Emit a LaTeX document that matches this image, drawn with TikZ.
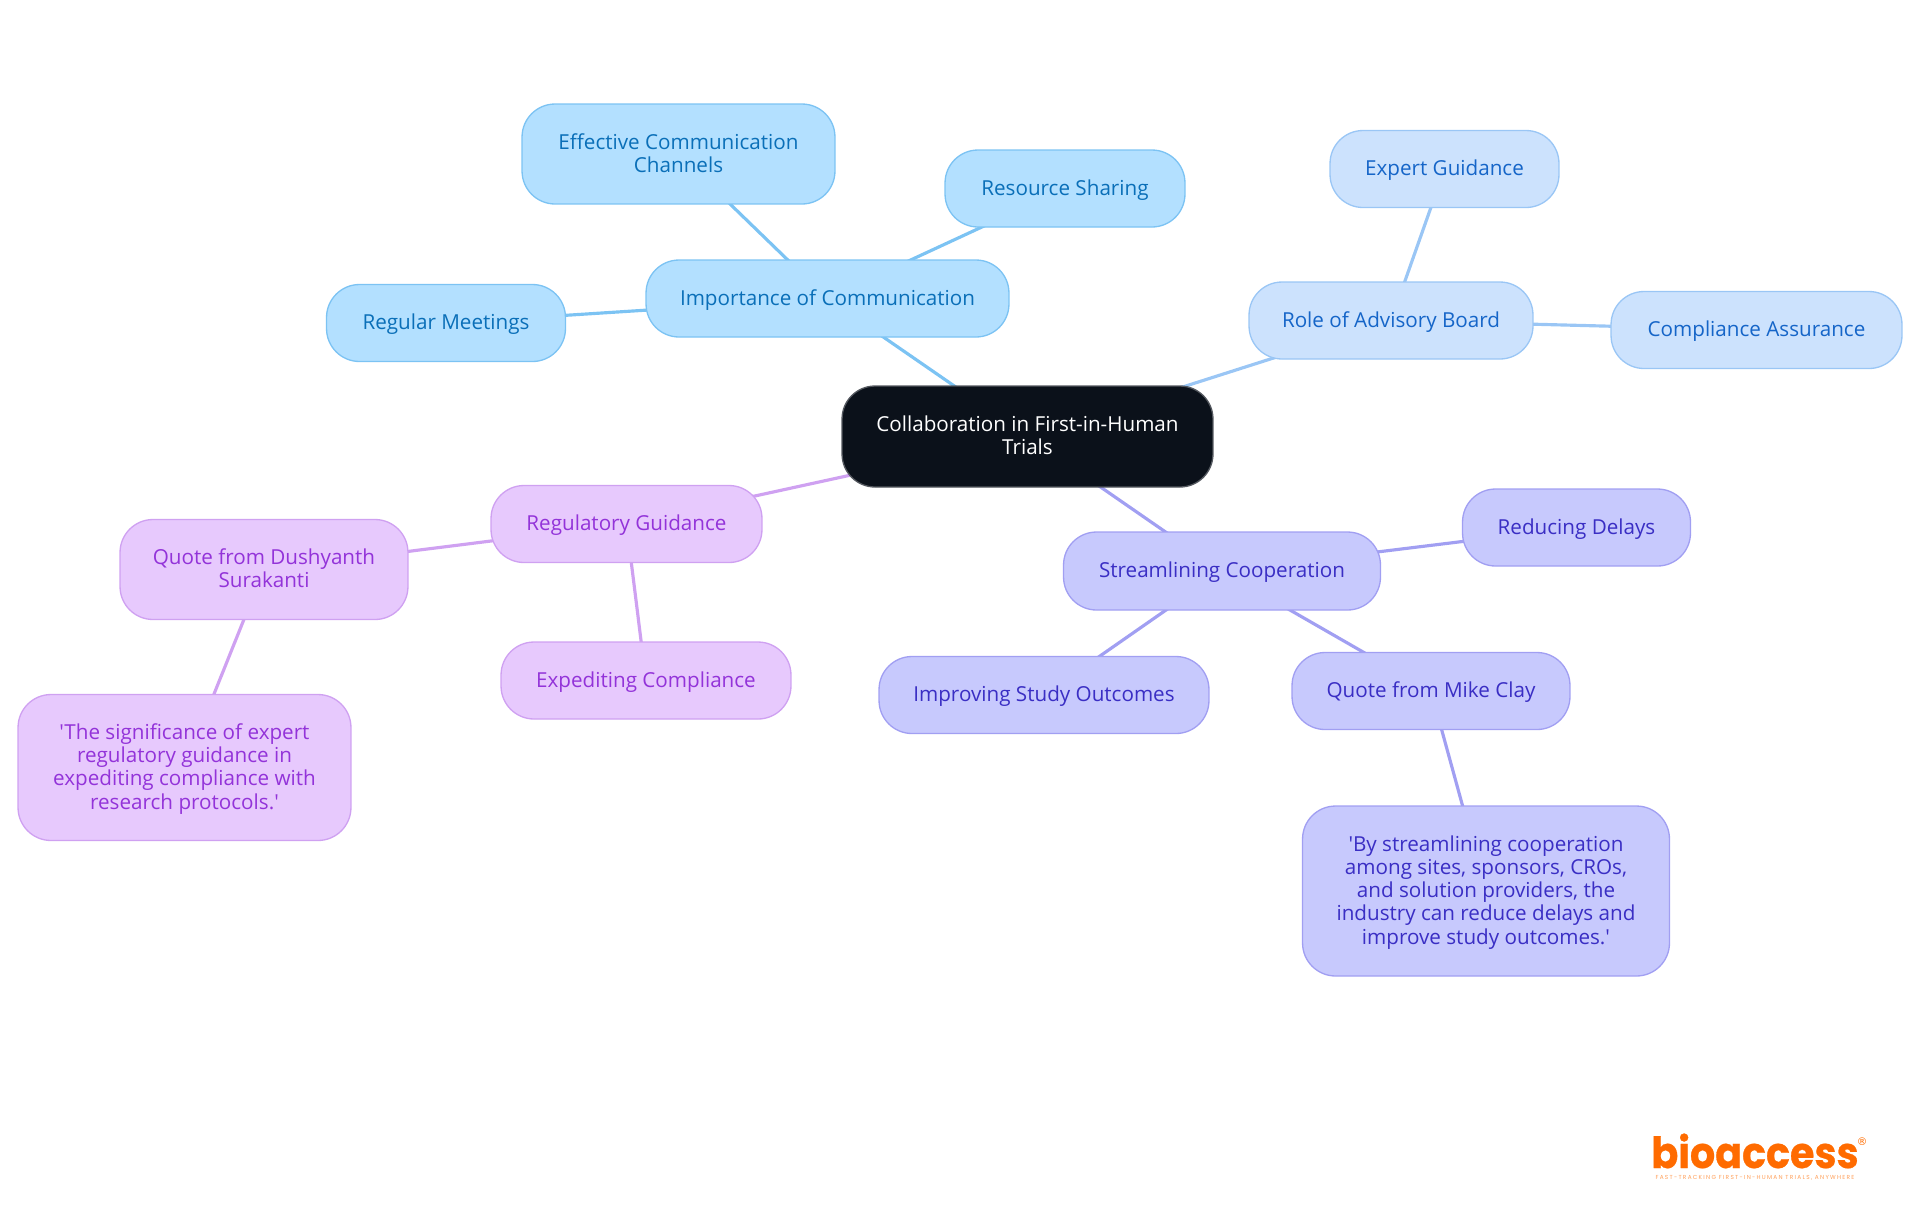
\documentclass[tikz,border=0pt]{standalone}
\usepackage{fontspec}
\setmainfont{Open Sans}[Ligatures=TeXOff]
\usetikzlibrary{backgrounds}
\definecolor{skyfill}{HTML}{B3E0FF}
\definecolor{skyline}{HTML}{7CC3F3}
\definecolor{skytext}{HTML}{0A6FB8}
\definecolor{palefill}{HTML}{CCE2FD}
\definecolor{paleline}{HTML}{9AC6F5}
\definecolor{paletext}{HTML}{1565C8}
\definecolor{indigofill}{HTML}{C7C9FD}
\definecolor{indigoline}{HTML}{A19FF2}
\definecolor{indigotext}{HTML}{3A2EC4}
\definecolor{violetfill}{HTML}{E7C9FD}
\definecolor{violetline}{HTML}{CFA1F1}
\definecolor{violettext}{HTML}{9333D9}
\definecolor{rootfill}{HTML}{0B111A}
\definecolor{logoorange}{HTML}{FF6B00}

\begin{document}
\begin{tikzpicture}[
    x=0.02cm, y=-0.02cm,
    topic/.style={
        rectangle, rounded corners=0.66cm, line width=0.75pt,
        align=center, font=\fontsize{11.75pt}{13.2pt}\selectfont,
        inner sep=0pt, text depth=1.3pt,
    },
    oneline/.style={text height=8.7pt},
    root/.style={topic, draw=rootfill!70!white, fill=rootfill, text=white},
    sky/.style={topic, draw=skyline, fill=skyfill, text=skytext},
    pale/.style={topic, draw=paleline, fill=palefill, text=paletext},
    indigo/.style={topic, draw=indigoline, fill=indigofill, text=indigotext},
    violet/.style={topic, draw=violetline, fill=violetfill, text=violettext},
    link/.style={line width=1.8pt},
]

% --- Page ---
\useasboundingbox (0, 0) rectangle (1920, 1215);

% --- Centre ---
\node[root, minimum width=7.42cm, minimum height=2.02cm] at (1027.5, 436.5) (centre) {Collaboration in First-in-Human\\Trials};

% --- Communication branch ---
\node[sky, oneline, minimum width=7.26cm, minimum height=1.54cm] at (827.5, 298.5) (comm) {Importance of Communication};
\node[sky, minimum width=6.26cm, minimum height=2.0cm] at (678.5, 154) (channels) {Effective Communication\\Channels};
\node[sky, oneline, minimum width=4.8cm, minimum height=1.54cm] at (1065, 188.5) (sharing) {Resource Sharing};
\node[sky, oneline, minimum width=4.78cm, minimum height=1.54cm] at (446, 323) (meetings) {Regular Meetings};

% --- Advisory branch ---
\node[pale, oneline, minimum width=5.68cm, minimum height=1.54cm] at (1391, 320.5) (board) {Role of Advisory Board};
\node[pale, oneline, minimum width=4.58cm, minimum height=1.54cm] at (1444.5, 169) (guidance) {Expert Guidance};
\node[pale, oneline, minimum width=5.82cm, minimum height=1.54cm] at (1756.5, 330) (assurance) {Compliance Assurance};

% --- Cooperation branch ---
\node[indigo, oneline, minimum width=6.34cm, minimum height=1.56cm] at (1222, 571) (cooperation) {Streamlining Cooperation};
\node[indigo, oneline, minimum width=4.56cm, minimum height=1.54cm] at (1576.5, 527.5) (delays) {Reducing Delays};
\node[indigo, oneline, minimum width=6.6cm, minimum height=1.54cm] at (1044, 695) (outcomes) {Improving Study Outcomes};
\node[indigo, oneline, minimum width=5.56cm, minimum height=1.54cm] at (1431, 691) (mike) {Quote from Mike Clay};
\node[indigo, minimum width=7.34cm, minimum height=3.4cm] at (1486, 891) (mikequote) {'By streamlining cooperation\\among sites, sponsors, CROs,\\and solution providers, the\\industry can reduce delays and\\improve study outcomes.'};

% --- Regulatory branch ---
\node[violet, oneline, minimum width=5.42cm, minimum height=1.54cm] at (626.5, 524) (regulatory) {Regulatory Guidance};
\node[violet, minimum width=5.76cm, minimum height=2.0cm] at (264, 569.5) (dush) {Quote from Dushyanth\\Surakanti};
\node[violet, minimum width=6.66cm, minimum height=2.92cm] at (184.5, 767.5) (dushquote) {'The significance of expert\\regulatory guidance in\\expediting compliance with\\research protocols.'};
\node[violet, oneline, minimum width=5.8cm, minimum height=1.54cm] at (646, 680.5) (expediting) {Expediting Compliance};

% --- Connectors ---
\begin{scope}[on background layer]
    \draw[link, skyline] (centre.center) -- (comm.center);
    \draw[link, skyline] (comm.center) -- (channels.center);
    \draw[link, skyline] (comm.center) -- (sharing.center);
    \draw[link, skyline] (comm.center) -- (meetings.center);
    \draw[link, paleline] (centre.center) -- (board.center);
    \draw[link, paleline] (board.center) -- (guidance.center);
    \draw[link, paleline] (board.center) -- (assurance.center);
    \draw[link, indigoline] (centre.center) -- (cooperation.center);
    \draw[link, indigoline] (cooperation.center) -- (delays.center);
    \draw[link, indigoline] (cooperation.center) -- (outcomes.center);
    \draw[link, indigoline] (cooperation.center) -- (mike.center);
    \draw[link, indigoline] (mike.center) -- (mikequote.center);
    \draw[link, violetline] (centre.center) -- (regulatory.center);
    \draw[link, violetline] (regulatory.center) -- (dush.center);
    \draw[link, violetline] (regulatory.center) -- (expediting.center);
    \draw[link, violetline] (dush.center) -- (dushquote.center);
\end{scope}

% --- Logo ---
\node[anchor=base, inner sep=0pt, text depth=0pt, text=logoorange, font={\fontspec{Poppins}[FakeStretch=0.92,FakeBold=0.6]\bfseries\fontsize{24.5pt}{24.5pt}\selectfont}] at (1755, 1168) (logo) {bioaccess};
\node[inner sep=0pt, text=logoorange!65!white, font={\fontspec{Poppins}[LetterSpace=22]\fontsize{3.3pt}{4pt}\selectfont}] at (1755, 1177.5) (tagline) {FAST-TRACKING FIRST-IN-HUMAN TRIALS, ANYWHERE};
\node[inner sep=0pt, text=logoorange, font={\fontspec{DejaVu Sans}\fontsize{6pt}{6pt}\selectfont}] at (1862, 1142) (mark) {®};

\end{tikzpicture}
\end{document}
